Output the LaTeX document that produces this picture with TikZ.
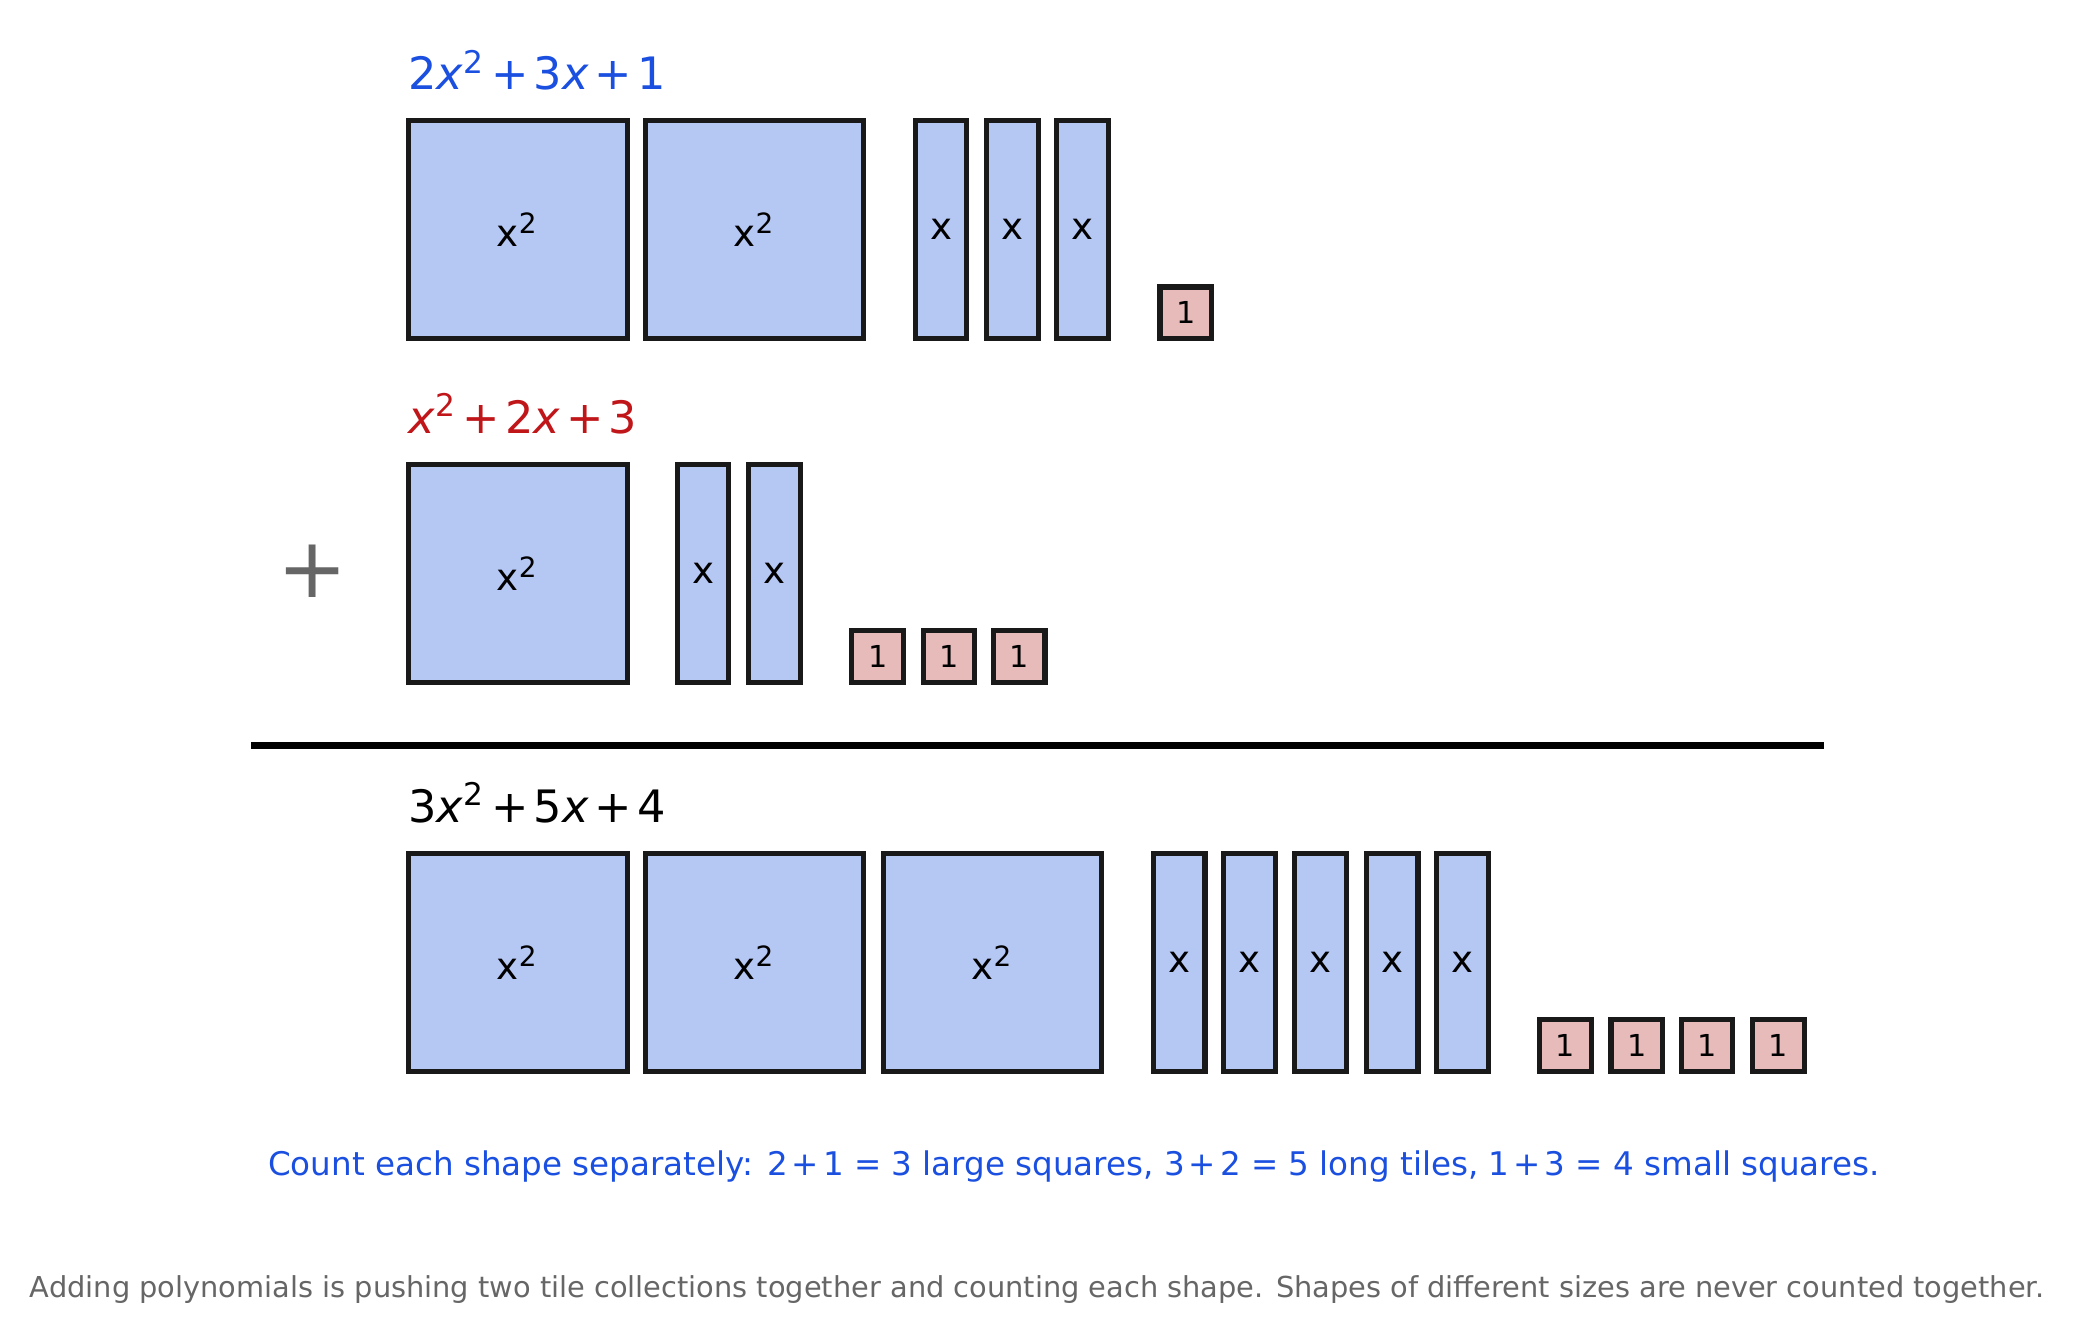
\documentclass[tikz,border=0pt]{standalone}
\usepackage{fontspec}
\setmainfont{DejaVu Sans}
\usetikzlibrary{positioning}
\definecolor{tileblue}{HTML}{B5C7F3}
\definecolor{tilepink}{HTML}{E8BBBB}
\definecolor{labblue}{HTML}{1A4FE0}
\definecolor{labred}{HTML}{C0161A}
\definecolor{notegray}{HTML}{666666}
\newcommand\vx{\textit{x}}
\newcommand\pl{\kern0.12em+\kern0.12em}
\begin{document}
\begin{tikzpicture}[x=0.01cm,y=-0.01cm,
  tile/.style={draw=black!90,line width=1.1pt,inner sep=0pt,outer sep=0pt,anchor=north west},
  big/.style={tile,fill=tileblue,minimum size=1.65cm,font=\fontsize{8}{10}\selectfont},
  long/.style={tile,fill=tileblue,minimum width=0.39cm,minimum height=1.65cm,font=\fontsize{8}{10}\selectfont},
  unit/.style={tile,fill=tilepink,minimum size=0.39cm,font=\fontsize{6.5}{8}\selectfont},
  head/.style={anchor=base west,inner sep=0pt,font=\fontsize{9.6}{12}\selectfont}]
\useasboundingbox (0,0) rectangle (1568,1001);
% first polynomial
\node[head,text=labblue] (h1) at (308,68) {2\vx\textsuperscript{2}\pl3\vx\pl1};
\foreach \i/\x in {1/309,2/488} \node[big] (a\i) at (\x,91) {x\textsuperscript{2}};
\foreach \i/\x in {1/692,2/746,3/799} \node[long] (b\i) at (\x,91) {x};
\node[unit] (c1) at (877,217) {1};
% second polynomial
\node[head,text=labred] (h2) at (308,328) {\vx\textsuperscript{2}\pl2\vx\pl3};
\node[big] (d1) at (309,351) {x\textsuperscript{2}};
\foreach \i/\x in {1/512,2/566} \node[long] (e\i) at (\x,351) {x};
\foreach \i/\x in {1/644,2/698,3/751} \node[unit] (f\i) at (\x,477) {1};
\node[text=notegray,font=\fontsize{18}{20}\selectfont] (plus) at (236,432) {+};
% sum line
\coordinate (l1) at (190,564);
\coordinate (l2) at (1379,564);
\draw[line width=1.5pt] (l1) -- (l2);
% sum
\node[head] (h3) at (308,622) {3\vx\textsuperscript{2}\pl5\vx\pl4};
\foreach \i/\x in {1/309,2/488,3/668} \node[big] (g\i) at (\x,645) {x\textsuperscript{2}};
\foreach \i/\x in {1/872,2/925,3/979,4/1033,5/1086} \node[long] (k\i) at (\x,645) {x};
\foreach \i/\x in {1/1164,2/1218,3/1271,4/1325} \node[unit] (m\i) at (\x,771) {1};
% notes
\node[text=labblue,font=\fontsize{7}{9}\selectfont] (note) at (812,882)
  {Count each shape separately: 2\pl1 = 3 large squares, 3\pl2 = 5 long tiles, 1\pl3 = 4 small squares.};
\node[text=notegray,font=\fontsize{6.2}{8}\selectfont] (foot) at (784,975)
  {Adding polynomials is pushing two tile collections together and counting each shape. Shapes of different sizes are never counted together.};
\end{tikzpicture}
\end{document}
